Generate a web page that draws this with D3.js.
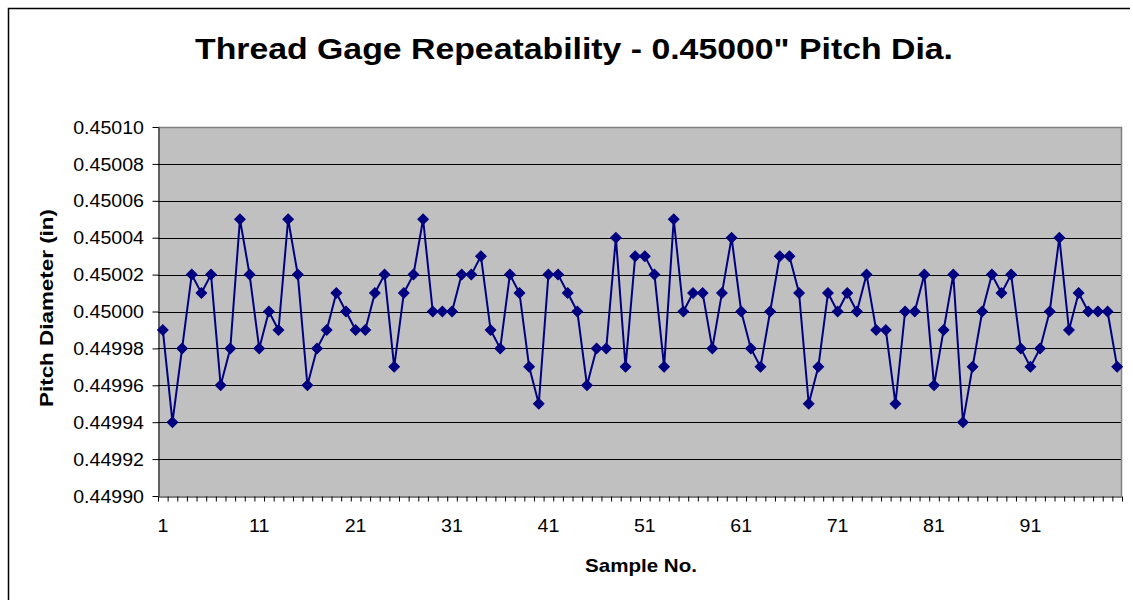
<!DOCTYPE html>
<html>
<head>
<meta charset="utf-8">
<script src="https://cdn.jsdelivr.net/npm/d3@7/dist/d3.min.js"></script>
<style>
  html, body { margin: 0; padding: 0; background: #fff; }
  svg { display: block; }
  text { font-family: "Liberation Sans", Arial, sans-serif; fill: #000; }
</style>
</head>
<body>
<svg id="chart" width="1133" height="600"></svg>
<script>
// ---- data ----
const titleText = 'Thread Gage Repeatability - 0.45000" Pitch Dia.';
const xTitle = "Sample No.";
const yTitle = "Pitch Diameter (in)";
const samples = d3.range(1, 101);
const pitchDia = [
  0.44999, 0.44994, 0.44998, 0.45002, 0.45001, 0.45002, 0.44996, 0.44998, 0.45005, 0.45002,
  0.44998, 0.45000, 0.44999, 0.45005, 0.45002, 0.44996, 0.44998, 0.44999, 0.45001, 0.45000,
  0.44999, 0.44999, 0.45001, 0.45002, 0.44997, 0.45001, 0.45002, 0.45005, 0.45000, 0.45000,
  0.45000, 0.45002, 0.45002, 0.45003, 0.44999, 0.44998, 0.45002, 0.45001, 0.44997, 0.44995,
  0.45002, 0.45002, 0.45001, 0.45000, 0.44996, 0.44998, 0.44998, 0.45004, 0.44997, 0.45003,
  0.45003, 0.45002, 0.44997, 0.45005, 0.45000, 0.45001, 0.45001, 0.44998, 0.45001, 0.45004,
  0.45000, 0.44998, 0.44997, 0.45000, 0.45003, 0.45003, 0.45001, 0.44995, 0.44997, 0.45001,
  0.45000, 0.45001, 0.45000, 0.45002, 0.44999, 0.44999, 0.44995, 0.45000, 0.45000, 0.45002,
  0.44996, 0.44999, 0.45002, 0.44994, 0.44997, 0.45000, 0.45002, 0.45001, 0.45002, 0.44998,
  0.44997, 0.44998, 0.45000, 0.45004, 0.44999, 0.45001, 0.45000, 0.45000, 0.45000, 0.44997
];
const xTickLabels = [1, 11, 21, 31, 41, 51, 61, 71, 81, 91];
const yTicks = [0.44990, 0.44992, 0.44994, 0.44996, 0.44998, 0.45000, 0.45002, 0.45004, 0.45006, 0.45008, 0.45010];

// ---- layout ----
const W = 1133, H = 600;
const plot = { left: 158, right: 1122, top: 127, bottom: 496 };
const svg = d3.select("#chart");

// outer border
svg.append("path")
  .attr("d", `M8.5,${H} V8.5 H1130`)
  .attr("fill", "none").attr("stroke", "#000").attr("stroke-width", 1.5);

// scales
const x = d3.scaleBand().domain(samples).range([plot.left, plot.right]).padding(0);
const xEdge = d3.scaleLinear().domain([0.5, 100.5]).range([plot.left, plot.right]);
const y = d3.scaleLinear().domain([0.44990, 0.45010]).range([plot.bottom, plot.top]);
const cx = d => x(d) + x.bandwidth() / 2;

// plot background
svg.append("rect")
  .attr("x", plot.left).attr("y", plot.top)
  .attr("width", plot.right - plot.left).attr("height", plot.bottom - plot.top)
  .attr("fill", "#C0C0C0");

// gridlines
svg.append("g").selectAll("line").data(yTicks.slice(1, -1)).join("line")
  .attr("x1", plot.left).attr("x2", plot.right)
  .attr("y1", d => Math.round(y(d)) + 0.5).attr("y2", d => Math.round(y(d)) + 0.5)
  .attr("stroke", "#000").attr("stroke-width", 1);

// plot border (top/right gray)
svg.append("path")
  .attr("d", `M${plot.left},${plot.top + 0.5} H${plot.right - 0.5} V${plot.bottom}`)
  .attr("fill", "none").attr("stroke", "#808080").attr("stroke-width", 1.5);

// y axis
const yAxis = svg.append("g")
  .attr("transform", `translate(${plot.left + 0.5},0)`)
  .call(d3.axisLeft(y).tickValues(yTicks).tickSize(6).tickSizeOuter(0).tickFormat(d3.format(".5f")));
yAxis.select(".domain").attr("stroke", "#000");
yAxis.selectAll(".tick line").attr("stroke", "#000");
yAxis.selectAll(".tick text")
  .attr("font-family", '"Liberation Sans", Arial, sans-serif')
  .attr("font-size", 17.5)
  .attr("x", -14.5 / 1.12)
  .attr("dy", "0.35em")
  .attr("transform", "scale(1.12,1)")
  .attr("fill", "#000");

// x axis boundary ticks
const xAxis = svg.append("g")
  .attr("transform", `translate(0,${plot.bottom + 0.5})`)
  .call(d3.axisBottom(xEdge).tickValues(d3.range(0.5, 101, 1)).tickSize(5).tickSizeOuter(0).tickFormat(""));
xAxis.select(".domain").attr("stroke", "#000");
xAxis.selectAll(".tick line").attr("stroke", "#000");

// x axis labels
const xLab = svg.append("g")
  .attr("transform", `translate(0,${plot.bottom})`)
  .call(d3.axisBottom(x).tickValues(xTickLabels).tickSize(0).tickPadding(0));
xLab.select(".domain").remove();
xLab.selectAll(".tick text")
  .attr("font-family", '"Liberation Sans", Arial, sans-serif')
  .attr("font-size", 17.5)
  .attr("y", 36)
  .attr("dy", 0)
  .attr("fill", "#000")
  .attr("transform", "scale(1.12,1)");

// line
svg.append("path")
  .datum(pitchDia)
  .attr("fill", "none")
  .attr("stroke", "#000080")
  .attr("stroke-width", 2)
  .attr("stroke-linejoin", "round")
  .attr("d", d3.line().x((d, i) => cx(samples[i])).y(d => y(d)));

// markers
svg.append("g").selectAll("path").data(pitchDia).join("path")
  .attr("transform", (d, i) => `translate(${cx(samples[i])},${y(d)}) rotate(45)`)
  .attr("d", d3.symbol().type(d3.symbolSquare).size(56))
  .attr("fill", "#000080")
  .attr("stroke", "#000080")
  .attr("stroke-width", 1);

// title
svg.append("text")
  .attr("x", 574).attr("y", 58.5)
  .attr("text-anchor", "middle")
  .attr("font-size", 30).attr("font-weight", "bold")
  .attr("textLength", 758).attr("lengthAdjust", "spacingAndGlyphs")
  .text(titleText);

// x title
svg.append("text")
  .attr("x", 641).attr("y", 572)
  .attr("text-anchor", "middle")
  .attr("font-size", 19).attr("font-weight", "bold")
  .attr("textLength", 112).attr("lengthAdjust", "spacingAndGlyphs")
  .text(xTitle);

// y title
svg.append("text")
  .attr("transform", `translate(53,308) rotate(-90)`)
  .attr("text-anchor", "middle")
  .attr("font-size", 19).attr("font-weight", "bold")
  .attr("textLength", 198).attr("lengthAdjust", "spacingAndGlyphs")
  .text(yTitle);
</script>
</body>
</html>
